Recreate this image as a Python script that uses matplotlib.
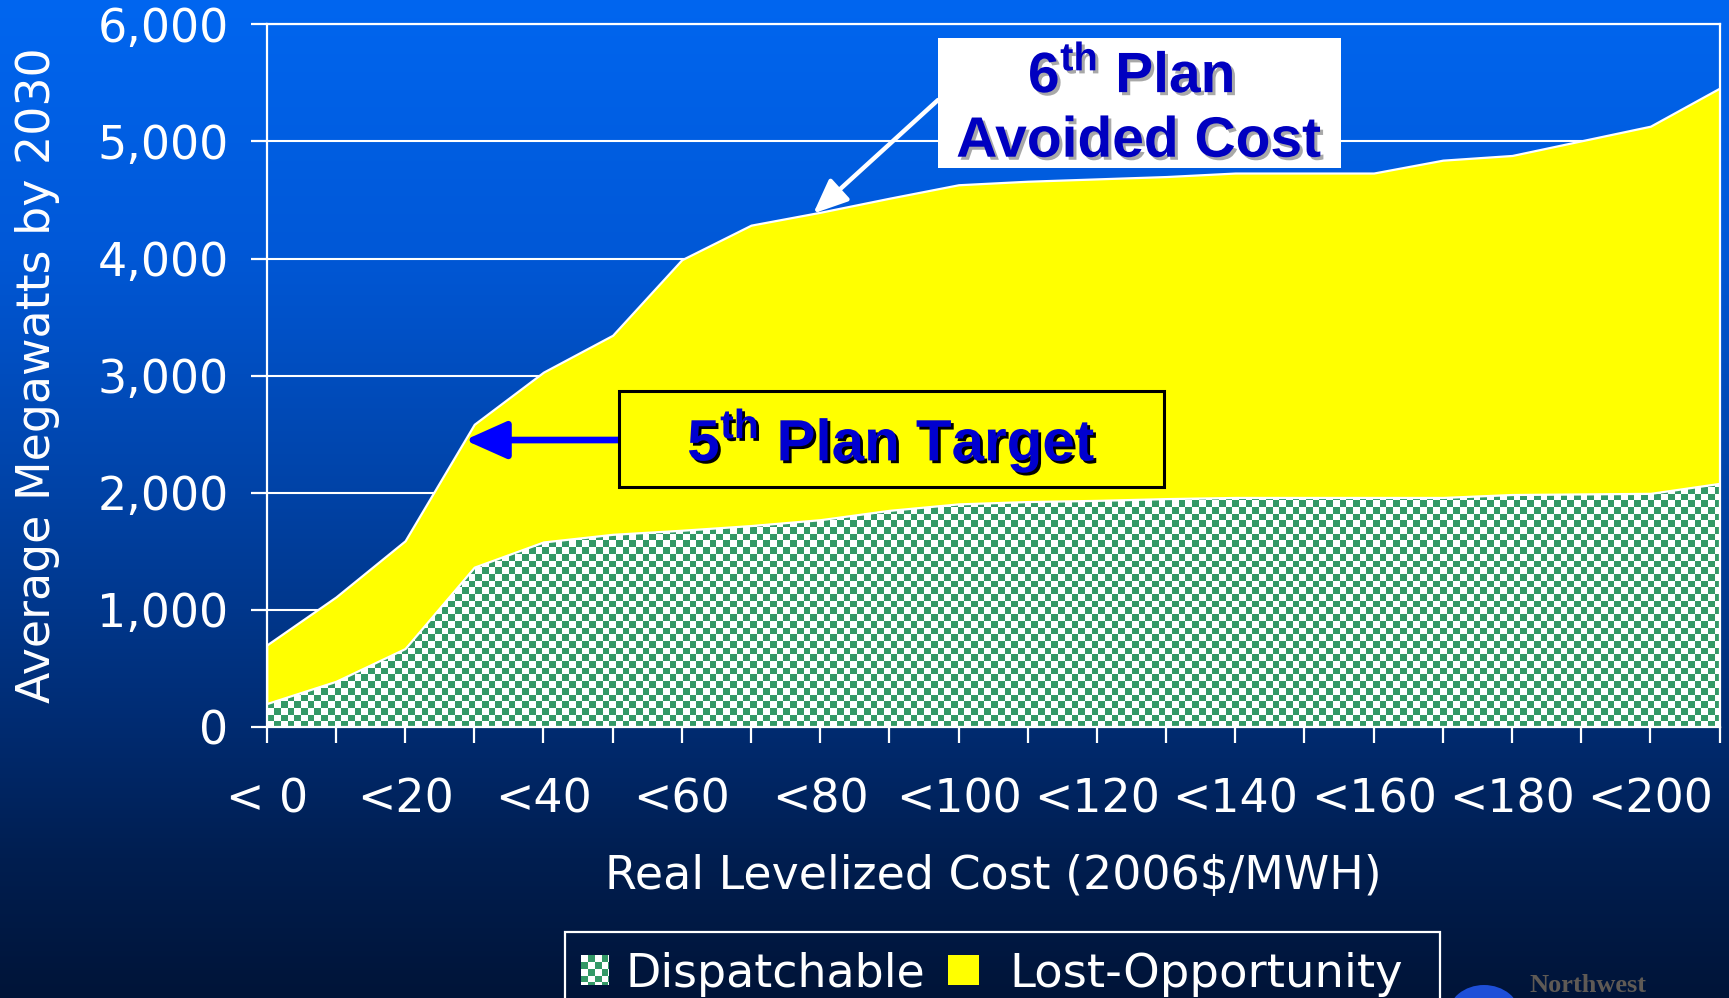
import numpy as np
import matplotlib
matplotlib.use("Agg")
import matplotlib.pyplot as plt
import matplotlib.patheffects as pe
from matplotlib.patches import Rectangle, Ellipse
from matplotlib.ticker import FuncFormatter

# ---- data -------------------------------------------------------------
cost_bins = ['< 0', '<10', '<20', '<30', '<40', '<50', '<60', '<70', '<80', '<90',
             '<100', '<110', '<120', '<130', '<140', '<150', '<160', '<170', '<180',
             '<190', '<200', '<210']
shown_labels = ['< 0', '<20', '<40', '<60', '<80', '<100', '<120', '<140', '<160',
                '<180', '<200']
dispatchable = [200, 390, 670, 1365, 1580, 1645, 1680, 1720, 1770, 1850, 1905,
                1925, 1935, 1950, 1960, 1960, 1960, 1960, 1985, 1990, 1995, 2080]
lost_opportunity = [500, 720, 920, 1220, 1450, 1700, 2310, 2565, 2625, 2665, 2725,
                    2735, 2745, 2750, 2770, 2770, 2770, 2880, 2895, 3015, 3135, 3375]
y_ticks = [0, 1000, 2000, 3000, 4000, 5000, 6000]

W, H = 1729, 998


def fx(px):
    return px / W


def fy(py):
    return 1 - py / H


plt.rcParams['font.family'] = ['DejaVu Sans']
plt.rcParams['mathtext.fontset'] = 'custom'
plt.rcParams['mathtext.rm'] = 'Liberation Sans'
plt.rcParams['mathtext.bf'] = 'Liberation Sans:bold'

fig = plt.figure(figsize=(W / 100, H / 100), dpi=100)

# ---- gradient slide background ----------------------------------------
bg = fig.add_axes([0, 0, 1, 1], zorder=-10)
bg.axis('off')
stops = np.array([0.0, 0.25, 0.5, 0.72, 0.86, 1.0])
cols = np.array([(0, 102, 240), (0, 88, 215), (0, 66, 165), (0, 44, 115),
                 (0, 30, 80), (0, 20, 56)]) / 255.0
t = np.linspace(0, 1, H)
grad = np.stack([np.interp(t, stops, cols[:, k]) for k in range(3)], axis=-1)
bg.imshow(grad[:, None, :], aspect='auto', interpolation='bilinear')

# ---- main chart -------------------------------------------------------
x = np.arange(len(cost_bins))
disp = np.array(dispatchable, float)
lost = np.array(lost_opportunity, float)
total = disp + lost

left_px, right_px, top_px, bot_px = 266.7, 1719.6, 24.3, 727.0
ax = fig.add_axes([fx(left_px), fy(bot_px), (right_px - left_px) / W,
                   (bot_px - top_px) / H])
ax.set_facecolor('none')

polys = ax.stackplot(x, disp, lost, colors=['white', '#FFFF00'],
                     edgecolor='white', linewidth=1.6)
polys[0].set_zorder(1)
polys[1].set_zorder(1.2)

# checkerboard texture for the dispatchable band
pw, ph = int(round(right_px - left_px)), int(round(bot_px - top_px))
jj, ii = np.meshgrid(np.arange(pw), np.arange(ph))
cell = 6.7
mask = ((jj // cell).astype(int) + (ii // cell).astype(int)) % 2
green = np.array([0.20, 0.60, 0.40])
white = np.array([1.0, 1.0, 1.0])
tex = np.where(mask[..., None] == 1, green, white)
im = ax.imshow(tex, extent=[x[0], x[-1], 0, 6000], aspect='auto',
               interpolation='nearest', zorder=1.1)
im.set_clip_path(polys[0].get_paths()[0], ax.transData)

ax.set_xlim(x[0], x[-1])
ax.set_ylim(0, 6000)
ax.set_yticks(y_ticks)
ax.yaxis.set_major_formatter(FuncFormatter(lambda v, p: f'{int(v):,}'))
ax.set_xticks(x)
ax.set_xticklabels([b if b in shown_labels else '' for b in cost_bins])
ax.yaxis.grid(True, color='white', lw=1.5)
ax.set_axisbelow(True)
for side in ['left', 'bottom', 'right', 'top']:
    ax.spines[side].set_color('white')
    ax.spines[side].set_linewidth(1.6)
ax.tick_params(axis='both', colors='white', length=11.5, width=1.6,
               labelsize=33, labelcolor='white')
ax.tick_params(axis='y', pad=16)
ax.tick_params(axis='x', pad=25)

ax.set_ylabel('Average Megawatts by 2030', color='white', fontsize=33,
              va='center', ha='center')
ax.yaxis.set_label_coords((38 - left_px) / (right_px - left_px), 0.5)
ax.set_xlabel('Real Levelized Cost (2006$/MWH)', color='white', fontsize=33,
              va='center', ha='center')
ax.xaxis.set_label_coords(0.5, (bot_px - 877) / (bot_px - top_px))

# ---- callouts ---------------------------------------------------------
bold_font = dict(family='Liberation Sans', weight='bold')

# 6th Plan avoided cost box
fig.add_artist(Rectangle((fx(938), fy(168)), (1341 - 938) / W, (168 - 38) / H,
                         transform=fig.transFigure, facecolor='white',
                         edgecolor='none', zorder=5))
grey_shadow = [pe.withSimplePatchShadow(offset=(2.2, -2.2),
                                        shadow_rgbFace='#a8a8a8', alpha=1.0)]
fig.text(fx(1131), fy(92.7), r'$\mathbf{6}^{\mathbf{th}}$ Plan', color='#0000C0',
         fontsize=41, ha='center', va='baseline', zorder=6,
         path_effects=grey_shadow, **bold_font)
fig.text(fx(1139), fy(156.7), 'Avoided Cost', color='#0000C0',
         fontsize=41, ha='center', va='baseline', zorder=6,
         path_effects=grey_shadow, **bold_font)
x_avoid = 7.9
ax.annotate('', xy=(x_avoid, np.interp(x_avoid, x, total)), xycoords='data',
            xytext=(fx(938), fy(100)), textcoords='figure fraction',
            arrowprops=dict(arrowstyle='-|>,head_length=0.7,head_width=0.3',
                            color='white', lw=3.2, mutation_scale=30,
                            shrinkA=0, shrinkB=0), zorder=6)

# 5th Plan target box
fig.add_artist(Rectangle((fx(619), fy(487)), (1164 - 619) / W, (487 - 391) / H,
                         transform=fig.transFigure, facecolor='#FFFF00',
                         edgecolor='black', lw=2.2, zorder=5))
black_shadow = [pe.withSimplePatchShadow(offset=(2.0, -2.0),
                                         shadow_rgbFace='black', alpha=1.0)]
fig.text(fx(891.5), fy(461), r'$\mathbf{5}^{\mathbf{th}}$ Plan Target',
         color='#0000D0', fontsize=42, ha='center', va='baseline', zorder=6,
         path_effects=black_shadow, **bold_font)
target_level = 2450
x_target = np.interp(target_level, total[2:4], x[2:4])
ax.annotate('', xy=(x_target, target_level), xycoords='data',
            xytext=(fx(619), fy(440)), textcoords='figure fraction',
            arrowprops=dict(arrowstyle='-|>,head_length=0.85,head_width=0.38',
                            color='#0000FF', lw=4.8, mutation_scale=30,
                            shrinkA=0, shrinkB=0), zorder=6)

# ---- legend -----------------------------------------------------------
fig.add_artist(Rectangle((fx(565), fy(1010)), (1440 - 565) / W, (1010 - 932) / H,
                         transform=fig.transFigure, facecolor='none',
                         edgecolor='white', lw=1.6, clip_on=False, zorder=5))
sw = fig.add_axes([fx(581), fy(985), 28 / W, 30 / H], zorder=6)
sj, si = np.meshgrid(np.arange(28), np.arange(30))
smask = ((sj // cell).astype(int) + (si // cell).astype(int)) % 2
sw.imshow(np.where(smask[..., None] == 1, green, white), aspect='auto',
          interpolation='nearest')
sw.axis('off')
fig.text(fx(625), fy(987), 'Dispatchable', color='white', fontsize=33,
         ha='left', va='baseline', zorder=6)
fig.add_artist(Rectangle((fx(948), fy(985)), 31 / W, 30 / H,
                         transform=fig.transFigure, facecolor='#FFFF00',
                         edgecolor='none', zorder=6))
fig.text(fx(1009), fy(987), 'Lost-Opportunity', color='white', fontsize=33.5,
         ha='left', va='baseline', zorder=6)

# ---- council logo fragment --------------------------------------------
fig.add_artist(Ellipse((fx(1484), fy(1015)), 72 / W, 60 / H,
                       transform=fig.transFigure, facecolor='#1E4FD8',
                       edgecolor='none', zorder=5))
fig.text(fx(1529), fy(992), 'Northwest', color='#5F5A55', fontsize=19,
         family='Liberation Serif', weight='bold', ha='left', va='baseline',
         zorder=6)

fig.savefig('out.png', dpi=100)
